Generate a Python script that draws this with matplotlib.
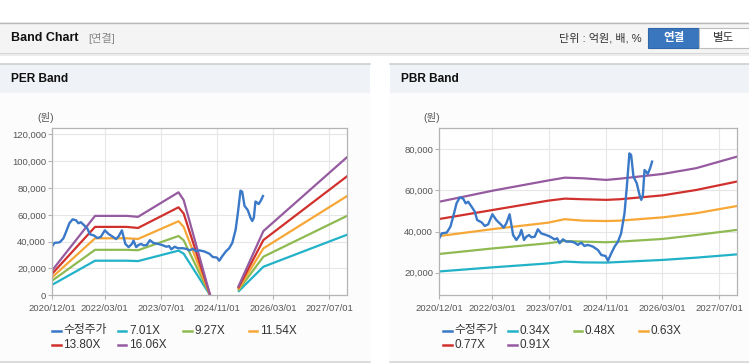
import numpy as np
import pandas as pd
import matplotlib
matplotlib.use("Agg")
import matplotlib.pyplot as plt
import matplotlib.dates as mdates
from matplotlib.patches import Rectangle
from matplotlib.lines import Line2D
from matplotlib.ticker import FuncFormatter

plt.rcParams['font.family'] = ['Liberation Sans', 'Noto Sans CJK KR', 'DejaVu Sans']

W, H = 749, 364

######################## data ########################

price_dates = ["2020-12-01", "2020-12-21", "2021-02-03", "2021-03-07", "2021-03-30", "2021-04-28",
               "2021-05-26", "2021-06-24", "2021-07-16", "2021-08-06", "2021-09-04", "2021-10-02",
               "2021-10-22", "2021-11-29", "2021-12-27", "2022-01-25", "2022-03-02", "2022-04-05",
               "2022-05-18", "2022-06-07", "2022-06-30", "2022-07-28", "2022-08-27", "2022-09-24",
               "2022-10-23", "2022-11-06", "2022-11-29", "2022-12-19", "2023-01-11", "2023-02-01",
               "2023-03-01", "2023-03-28", "2023-04-26", "2023-06-08", "2023-07-12", "2023-08-18",
               "2023-09-10", "2023-09-30", "2023-10-29", "2023-11-27", "2024-01-09", "2024-02-07",
               "2024-03-05", "2024-04-03", "2024-05-01", "2024-05-30", "2024-07-12", "2024-08-25",
               "2024-09-23", "2024-10-30", "2024-11-19", "2024-12-17", "2025-01-15", "2025-02-13",
               "2025-03-12", "2025-04-10", "2025-04-30", "2025-05-22", "2025-06-06", "2025-06-26",
               "2025-07-24", "2025-08-17", "2025-09-01", "2025-09-15", "2025-09-29", "2025-10-13",
               "2025-10-27", "2025-11-16", "2025-12-03"]
price = [36700, 39100, 39500, 42400, 47200, 53700, 56600, 56000, 53700, 54500, 52100, 49700,
         45600, 44500, 42700, 43500, 48400, 45600, 43200, 41900, 44000, 48400, 38300, 35900,
         38300, 40800, 35900, 37500, 38300, 37200, 37500, 41100, 39100, 38300, 37500, 36200,
         36700, 34300, 36200, 35100, 35100, 34600, 33500, 34600, 33000, 33500, 32700, 31000,
         28600, 28100, 25800, 29400, 32700, 35100, 39100, 48900, 61800, 78000, 77200, 66700,
         63500, 57800, 55400, 57800, 69900, 69100, 68000, 70800, 74000]

# PER band (nan = gap)
per_dates = ["2020-12-01", "2021-12-07", "2022-09-07", "2022-12-15", "2023-12-01", "2024-01-15",
             "2024-09-01", "2025-01-01", "2025-05-01", "2025-12-07", "2027-12-07"]
per_labels = ["7.01X", "9.27X", "11.54X", "13.80X", "16.06X"]
per_701 = [7900, 25800, 25800, 25500, 33300, 31000, 0, np.nan, 2600, 21300, 45300]
per_927 = [11000, 33900, 33900, 33600, 44200, 41000, 0, np.nan, 3500, 28800, 59400]
per_1154 = [13500, 42500, 42500, 42000, 55200, 51000, 0, np.nan, 4300, 35000, 74200]
per_1380 = [16200, 51000, 51000, 50200, 65600, 61000, 0, np.nan, 5200, 41200, 89000]
per_1606 = [18700, 59200, 59200, 58500, 76800, 71000, 0, np.nan, 6000, 47900, 103300]

# PBR band
pbr_dates = ["2020-12-01", "2022-03-07", "2023-06-22", "2023-11-13", "2024-04-19", "2024-11-04",
             "2025-02-28", "2026-03-04", "2026-12-16", "2027-12-01"]
pbr_labels = ["0.34X", "0.48X", "0.63X", "0.77X", "0.91X"]
pbr_034 = [20600, 22600, 24500, 25400, 25000, 24900, 25200, 26200, 27300, 28900]
pbr_048 = [29100, 31800, 34300, 35400, 35100, 34800, 35100, 36400, 38300, 40800]
pbr_063 = [37800, 41200, 44300, 46000, 45300, 45100, 45300, 46900, 48900, 52400]
pbr_077 = [46100, 50500, 55000, 56000, 55700, 55400, 55700, 57600, 60200, 64300]
pbr_091 = [54500, 59900, 64800, 66200, 65900, 65100, 65700, 68000, 70800, 76400]

x_ticks = ["2020-12-01", "2022-03-01", "2023-07-01", "2024-11-01", "2026-03-01", "2027-07-01"]

PRICE_COLOR = "#3a78c8"
BAND_COLORS = ["#22b2c8", "#8fba52", "#f6a735", "#d0312d", "#955a9f"]

###################### helpers #######################


def fx(x):
    return x / W


def fy(y):
    return 1 - y / H


def box(fig, x0, y0, x1, y1, **kw):
    fig.add_artist(Rectangle((fx(x0), fy(y1)), fx(x1) - fx(x0), fy(y0) - fy(y1),
                             transform=fig.transFigure, zorder=-2, **kw))


def hline(fig, x0, x1, y, color, lw=1.0):
    fig.add_artist(Line2D([fx(x0), fx(x1)], [fy(y), fy(y)], transform=fig.transFigure,
                          color=color, lw=lw, zorder=-1))


def style_axis(ax, ylim, yticks):
    ax.set_xlim(pd.Timestamp("2020-12-01"), pd.Timestamp("2027-12-05"))
    ax.set_ylim(*ylim)
    ax.set_yticks(yticks)
    ax.set_xticks(pd.to_datetime(x_ticks))
    ax.xaxis.set_major_formatter(mdates.DateFormatter("%Y/%m/%d"))
    ax.yaxis.set_major_formatter(FuncFormatter(lambda v, p: f"{v:,.0f}"))
    ax.set_facecolor("white")
    ax.grid(True, color="#e6e6e6", lw=0.8)
    ax.set_axisbelow(True)
    for s in ax.spines.values():
        s.set_color("#b4b4b4")
        s.set_linewidth(0.9)
    ax.tick_params(axis="both", colors="#b4b4b4", labelcolor="#555555", labelsize=6.8,
                   length=3, width=0.8)
    ax.tick_params(axis="y", pad=1.5)
    ax.tick_params(axis="x", pad=3)


def draw_legend(fig, x0, labels, colors):
    for i, (lab, c) in enumerate(zip(labels, colors)):
        x = x0 + (i % 4) * 65.4
        y = 330.5 + (i // 4) * 14
        fig.add_artist(Line2D([fx(x), fx(x + 8.5)], [fy(y), fy(y)], transform=fig.transFigure,
                              color=c, lw=1.8))
        fig.text(fx(x + 11), fy(y), lab, fontsize=8.5, color="#333333", va="center", ha="left")


def draw_panel(fig, x0, x1, title):
    box(fig, x0, 93, x1, 362, facecolor="#fcfcfc", edgecolor="none")
    box(fig, x0, 64, x1, 93, facecolor="#eff2f7", edgecolor="none")
    hline(fig, x0, x1, 64, "#cfcfcf", 1.2)
    hline(fig, x0, x1, 362, "#d6d6d6", 1.2)
    fig.text(fx(x0 + 11), fy(79.5), title, fontsize=8.6, fontweight="bold", color="#111111",
             va="center", ha="left")


######################## draw ########################

fig = plt.figure(figsize=(W / 100, H / 100), dpi=100)
fig.patch.set_facecolor("white")

# top header
box(fig, 0, 22, 749, 53, facecolor="#f4f4f4", edgecolor="none")
hline(fig, 0, 749, 22.5, "#b8b8b8", 1.0)
hline(fig, 0, 749, 53.5, "#d0d0d0", 1.2)
hline(fig, 0, 749, 55, "#ececec", 1.5)
fig.text(fx(11), fy(38), "Band Chart", fontsize=9, fontweight="bold", color="#111111",
         va="center", ha="left")
fig.text(fx(88), fy(38.5), "[연결]", fontsize=8, color="#888888", va="center", ha="left")
fig.text(fx(642), fy(38.5), "단위 : 억원, 배, %", fontsize=8, color="#333333", va="center", ha="right")
box(fig, 648, 28, 699, 48, facecolor="#3a76bd", edgecolor="#2f66a8", lw=0.8)
box(fig, 699, 28, 749, 48, facecolor="white", edgecolor="#bdbdbd", lw=0.8)
fig.text(fx(673.5), fy(38.5), "연결", fontsize=8.3, fontweight="bold", color="white",
         va="center", ha="center")
fig.text(fx(724), fy(38.5), "별도", fontsize=8.3, color="#333333", va="center", ha="center")

draw_panel(fig, 0, 370, "PER Band")
draw_panel(fig, 390, 749, "PBR Band")

# PER chart
ax1 = fig.add_axes([fx(52.3), fy(295.3), (347.3 - 52.3) / W, (295.3 - 128.3) / H])
style_axis(ax1, (0, 124500), range(0, 120001, 20000))
pd_ = pd.to_datetime(price_dates)
per_x = pd.to_datetime(per_dates)
for vals, c in zip([per_701, per_927, per_1154, per_1380, per_1606], BAND_COLORS):
    ax1.plot(per_x, vals, color=c, lw=1.6, solid_capstyle="butt")
ax1.plot(pd_, price, color=PRICE_COLOR, lw=1.7)
fig.text(fx(37), fy(118), "(원)", fontsize=7.5, color="#555555", va="center", ha="left")

# PBR chart
ax2 = fig.add_axes([fx(439.3), fy(295.3), (737.3 - 439.3) / W, (295.3 - 128.3) / H])
style_axis(ax2, (9000, 90200), range(20000, 80001, 20000))
pbr_x = pd.to_datetime(pbr_dates)
for vals, c in zip([pbr_034, pbr_048, pbr_063, pbr_077, pbr_091], BAND_COLORS):
    ax2.plot(pbr_x, vals, color=c, lw=1.6)
ax2.plot(pd_, price, color=PRICE_COLOR, lw=1.7)
fig.text(fx(423), fy(118), "(원)", fontsize=7.5, color="#555555", va="center", ha="left")

draw_legend(fig, 52.5, ["수정주가"] + per_labels, [PRICE_COLOR] + BAND_COLORS)
draw_legend(fig, 443, ["수정주가"] + pbr_labels, [PRICE_COLOR] + BAND_COLORS)

fig.savefig("out.png", dpi=100)
